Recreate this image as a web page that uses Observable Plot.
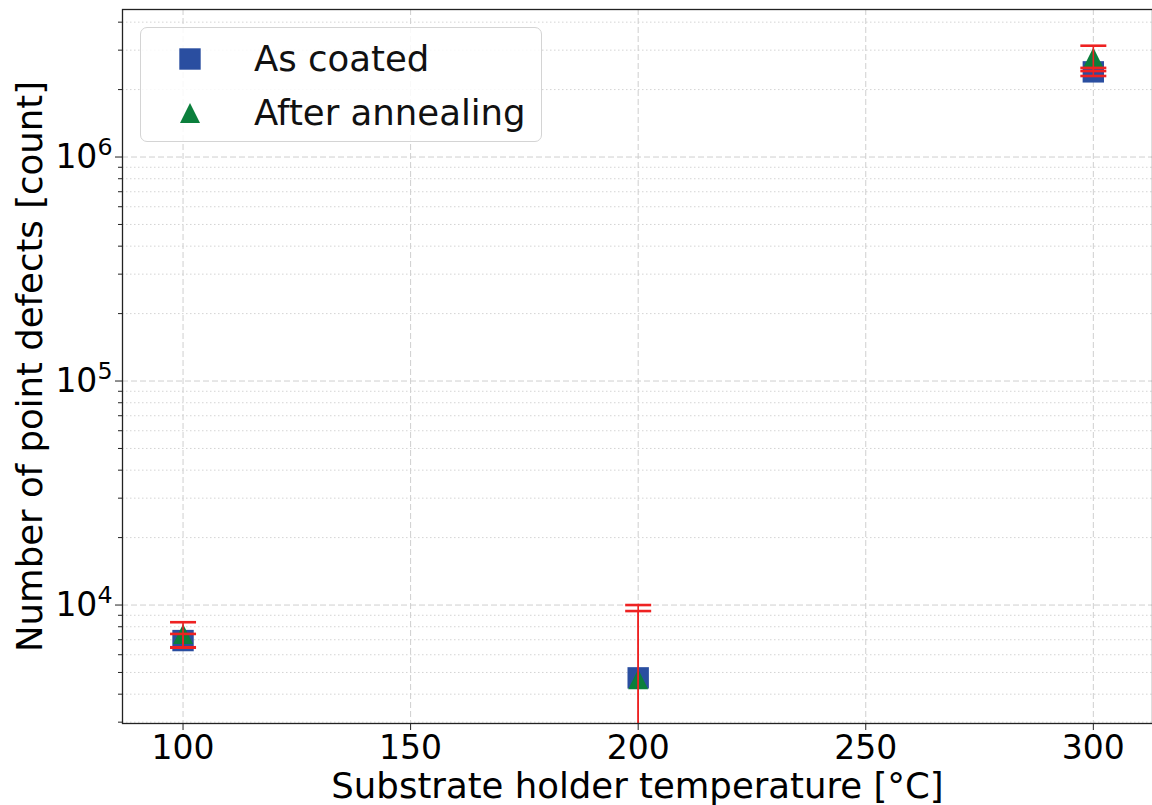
<!DOCTYPE html>
<html><head><meta charset="utf-8">
<script src="https://cdn.jsdelivr.net/npm/d3@7"></script>
<script src="https://cdn.jsdelivr.net/npm/@observablehq/plot@0.6"></script>
<style>
body{margin:0;background:#fff;font-family:"DejaVu Sans",sans-serif;}
#wrap{position:relative;width:1152px;height:805px;overflow:hidden;}
#legend{position:absolute;left:140px;top:27px;width:402px;height:115px;border:1.5px solid #d4d4d4;border-radius:7px;background:rgba(255,255,255,0.85);box-sizing:border-box;}
</style></head><body><div id="wrap"></div>
<script>
// ---- data ----
const temperatures = [100, 200, 300];
const asCoated = [6940, 4730, 2.40e6];
const asCoatedErr = [490, 5270, 0.10e6];
const afterAnnealing = [7430, 4660, 2.78e6];
const afterAnnealingErr = [950, 4740, 0.36e6];
const seriesNames = ["As coated", "After annealing"];
const seriesColors = ["#2a4ea0", "#0b7f3c"];
const errColor = "#ee2222";
const xTicks = [100, 150, 200, 250, 300];
const yMajorTicks = [1e4, 1e5, 1e6];
const yTickLabels = ["10^4", "10^5", "10^6"];
const yMinorTicks = [3e3,4e3,5e3,6e3,7e3,8e3,9e3,2e4,3e4,4e4,5e4,6e4,7e4,8e4,9e4,2e5,3e5,4e5,5e5,6e5,7e5,8e5,9e5,2e6,3e6,4e6];

const rows = [];
temperatures.forEach((t, i) => {
  rows.push({t, v: asCoated[i], e: asCoatedErr[i], s: seriesNames[0]});
  rows.push({t, v: afterAnnealing[i], e: afterAnnealingErr[i], s: seriesNames[1]});
});
const sq = rows.filter(d => d.s === seriesNames[0]);
const tr = rows.filter(d => d.s === seriesNames[1]);

const squareSym = {draw(ctx, size){ const r = Math.sqrt(size/Math.PI); ctx.moveTo(-r,-r); ctx.lineTo(r,-r); ctx.lineTo(r,r); ctx.lineTo(-r,r); ctx.closePath(); }};
const triSym = {draw(ctx, size){ const r = Math.sqrt(size/Math.PI); ctx.moveTo(0,-r); ctx.lineTo(r,r); ctx.lineTo(-r,r); ctx.closePath(); }};
const capSym = {draw(ctx, size){ const r = Math.sqrt(size/Math.PI); ctx.moveTo(-r,0); ctx.lineTo(r,0); }};

const labelMap = new Map(yMajorTicks.map((v,i) => [v, yTickLabels[i]]));

const chart = Plot.plot({
  width: 1152, height: 805,
  marginLeft: 122, marginRight: 0, marginTop: 9, marginBottom: 82,
  style: {fontFamily: '"DejaVu Sans", sans-serif', fontSize: "33px", color: "#000", background: "transparent", overflow: "visible"},
  x: {domain: [86.7, 313.0]},
  y: {type: "log", domain: [2959, 4.556e6]},
  marks: [
    Plot.gridY(yMinorTicks, {stroke: "#cfcfcf", strokeOpacity: 0.9, strokeWidth: 1, strokeDasharray: "1.5,2.5"}),
    Plot.gridY(yMajorTicks, {stroke: "#cfcfcf", strokeOpacity: 1, strokeWidth: 1, strokeDasharray: "6,3"}),
    Plot.gridX(xTicks, {stroke: "#cfcfcf", strokeOpacity: 1, strokeWidth: 1, strokeDasharray: "6,3"}),
    Plot.axisX(xTicks, {tickSize: 7, tickPadding: 5, stroke: "#222", fontSize: 33,
      label: "Substrate holder temperature [°C]", labelAnchor: "center", labelArrow: "none", labelOffset: 74}),
    Plot.axisY(yMajorTicks, {tickSize: 7, tickPadding: 3, stroke: "#222", fontSize: 33,
      tickFormat: d => labelMap.get(d),
      label: "Number of point defects [count]", labelAnchor: "center", labelArrow: "none", labelOffset: 106}),
    Plot.axisY(yMinorTicks, {tickSize: 4, stroke: "#222", tickFormat: () => "", label: null}),
    Plot.dot(sq, {x: "t", y: "v", symbol: squareSym, r: 10.7, fill: seriesColors[0], stroke: "none"}),
    Plot.dot(tr, {x: "t", y: "v", symbol: triSym, r: 10, fill: seriesColors[1], stroke: "none"}),
    Plot.ruleX(rows, {x: "t", y1: d => Math.max(d.v - d.e, 1), y2: d => d.v + d.e, stroke: errColor, strokeWidth: 1.6, clip: true}),
    Plot.dot(rows, {x: "t", y: d => d.v + d.e, symbol: capSym, r: 13, stroke: errColor, strokeWidth: 2.6, fill: "none"}),
    Plot.dot(rows.filter(d => d.v - d.e > 0), {x: "t", y: d => d.v - d.e, symbol: capSym, r: 13, stroke: errColor, strokeWidth: 2.6, fill: "none"}),
    Plot.frame({stroke: "#222", strokeWidth: 1.3})
  ]
});

// superscript tick labels
d3.select(chart).selectAll('g[aria-label="y-axis tick label"] text').each(function(){
  const txt = this.textContent;
  if (!txt || txt.indexOf("^") < 0) return;
  const [base, exp] = txt.split("^");
  const sel = d3.select(this);
  sel.text(null);
  sel.append("tspan").text(base);
  sel.append("tspan").attr("font-size", "0.72em").attr("dy", "-0.55em").text(exp);
});
// axis title size
d3.select(chart).selectAll('g[aria-label="x-axis label"] text, g[aria-label="y-axis label"] text').attr("font-size", 35.5);

const wrap = document.getElementById("wrap");
wrap.appendChild(chart);

// legend
const leg = d3.select(wrap).append("div").attr("id", "legend");
const lsvg = leg.append("svg").attr("width", 399).attr("height", 112).style("position","absolute").style("left","0").style("top","0");
const lSquare = d3.path(); squareSym.draw(lSquare, Math.PI*10.7*10.7);
const lTri = d3.path(); triSym.draw(lTri, Math.PI*10*10);
const items = [{name: seriesNames[0], path: lSquare.toString(), color: seriesColors[0], cy: 31},
               {name: seriesNames[1], path: lTri.toString(), color: seriesColors[1], cy: 85}];
items.forEach(it => {
  lsvg.append("path").attr("d", it.path).attr("fill", it.color).attr("transform", `translate(49,${it.cy})`);
  lsvg.append("text").attr("x", 113).attr("y", it.cy + 12).attr("font-size", 35.5).attr("font-family", '"DejaVu Sans", sans-serif').attr("fill", "#111").text(it.name);
});
</script>
</body></html>
